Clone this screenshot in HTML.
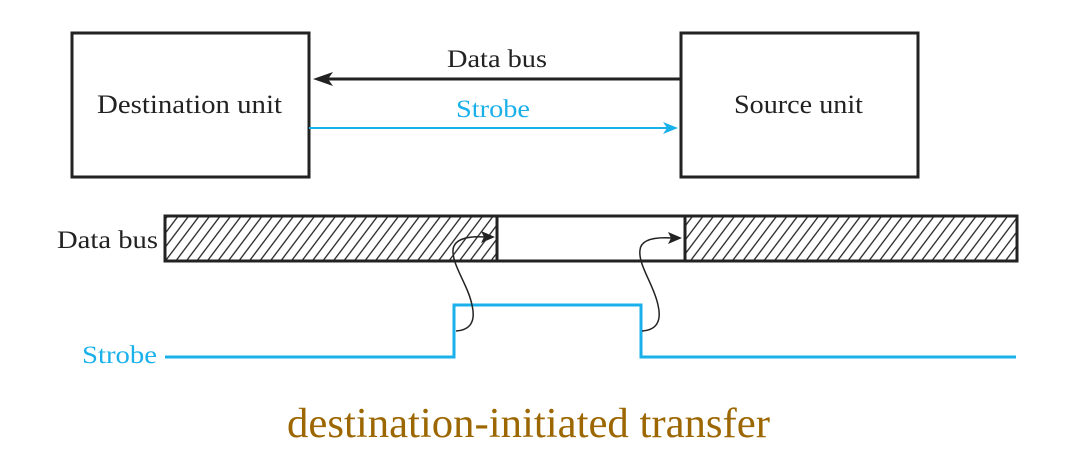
<!DOCTYPE html>
<html>
<head>
<meta charset="utf-8">
<style>
html,body{margin:0;padding:0;background:#fff;}
svg{display:block;}
</style>
</head>
<body>
<svg width="1081" height="465" viewBox="0 0 1081 465" xmlns="http://www.w3.org/2000/svg">
<defs>
<pattern id="hatch" patternUnits="userSpaceOnUse" width="10.5" height="14" patternTransform="skewX(-37)">
<line x1="5" y1="-1" x2="5" y2="15" stroke="#222" stroke-width="1.6"/>
</pattern>
</defs>
<rect width="1081" height="465" fill="#fff"/>

<!-- Top boxes -->
<rect x="72" y="33" width="237" height="144" fill="none" stroke="#222" stroke-width="3"/>
<rect x="681" y="33" width="237" height="144" fill="none" stroke="#222" stroke-width="3"/>
<text x="97" y="113" font-family="Liberation Serif, serif" font-size="26" fill="#222" textLength="185" lengthAdjust="spacingAndGlyphs">Destination unit</text>
<text x="734" y="113" font-family="Liberation Serif, serif" font-size="26" fill="#222" textLength="129" lengthAdjust="spacingAndGlyphs">Source unit</text>

<!-- Data bus arrow -->
<line x1="681" y1="79" x2="325" y2="79" stroke="#222" stroke-width="3"/>
<path d="M313,79 L333,72 L328,79 L333,86 Z" fill="#222"/>
<text x="447" y="67" font-family="Liberation Serif, serif" font-size="25" fill="#222" textLength="100" lengthAdjust="spacingAndGlyphs">Data bus</text>

<!-- Strobe arrow -->
<line x1="309" y1="128" x2="668" y2="128" stroke="#1ab0ea" stroke-width="2"/>
<path d="M678,128 L663,122 L667,128 L663,134 Z" fill="#1ab0ea"/>
<text x="456" y="117" font-family="Liberation Serif, serif" font-size="25" fill="#1ab0ea" textLength="74" lengthAdjust="spacingAndGlyphs">Strobe</text>

<!-- Timing data bus -->
<rect x="165" y="216" width="332" height="45" fill="url(#hatch)"/>
<rect x="685" y="216" width="332" height="45" fill="url(#hatch)"/>
<rect x="165" y="216" width="852" height="45" fill="none" stroke="#222" stroke-width="3"/>
<line x1="497" y1="216" x2="497" y2="261" stroke="#222" stroke-width="3"/>
<line x1="685" y1="216" x2="685" y2="261" stroke="#222" stroke-width="3"/>
<text x="57" y="248" font-family="Liberation Serif, serif" font-size="25" fill="#222" textLength="101" lengthAdjust="spacingAndGlyphs">Data bus</text>

<!-- Strobe waveform -->
<polyline points="165,357 454,357 454,305 641,305 641,357 1016,357" fill="none" stroke="#1ab0ea" stroke-width="3"/>
<text x="82" y="363" font-family="Liberation Serif, serif" font-size="25" fill="#1ab0ea" textLength="75" lengthAdjust="spacingAndGlyphs">Strobe</text>

<!-- Causal curves -->
<path d="M456,331 C470,330 476,322 472,305 C468,285 452,265 453,250 C454,238 470,236 485,237" fill="none" stroke="#222" stroke-width="1.5"/>
<path d="M495,237 L481,231 L484,237 L481,243 Z" fill="#222"/>
<path d="M642,331 C656,330 662,322 658,305 C654,285 638,265 640,250 C641,239 656,237 672,238" fill="none" stroke="#222" stroke-width="1.5"/>
<path d="M682,238 L668,232 L671,238 L668,244 Z" fill="#222"/>

<!-- Caption -->
<text x="287" y="437" font-family="Liberation Serif, serif" font-size="42" fill="#9c6700" textLength="483" lengthAdjust="spacingAndGlyphs">destination-initiated transfer</text>
</svg>
</body>
</html>
